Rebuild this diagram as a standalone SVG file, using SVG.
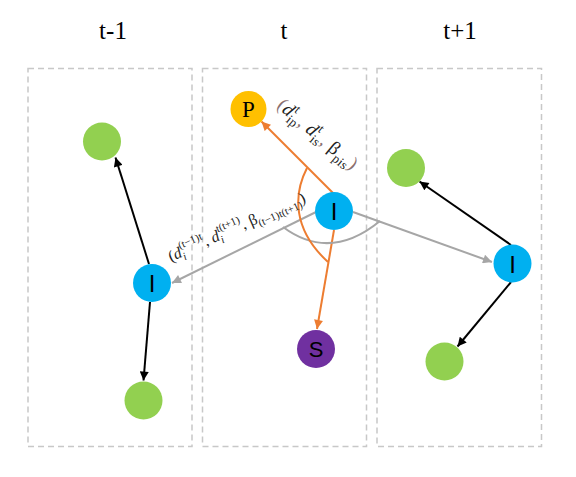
<svg xmlns="http://www.w3.org/2000/svg" width="576" height="477" viewBox="0 0 576 477">
<style>
.box{fill:none;stroke:#C8C8C8;stroke-width:1.5;stroke-dasharray:6 4}
.title{font-family:"Liberation Serif",serif;font-size:25px;fill:#000;text-anchor:middle}
.blk{stroke:#000;stroke-width:2;fill:none}
.gry{stroke:#A6A6A6;stroke-width:2;fill:none}
.org{stroke:#ED7D31;stroke-width:2;fill:none}
.blue{fill:#00B0F0}
.green{fill:#92D050}
.lbl{font-family:"Liberation Sans",sans-serif;text-anchor:middle;fill:#000}
.math{font-family:"Liberation Serif",serif;fill:#222}
</style>
<defs>
<marker id="ab" viewBox="0 0 10 10" refX="10" refY="5" markerWidth="5" markerHeight="4.5" orient="auto" markerUnits="strokeWidth"><path d="M0,0 L10,5 L0,10 z" fill="#000"/></marker>
<marker id="ag" viewBox="0 0 10 10" refX="10" refY="5" markerWidth="5" markerHeight="4.5" orient="auto" markerUnits="strokeWidth"><path d="M0,0 L10,5 L0,10 z" fill="#A6A6A6"/></marker>
<marker id="ao" viewBox="0 0 10 10" refX="10" refY="5" markerWidth="5" markerHeight="4.5" orient="auto" markerUnits="strokeWidth"><path d="M0,0 L10,5 L0,10 z" fill="#ED7D31"/></marker>
</defs>
<g id="frames">
<rect class="box" x="28" y="68.5" width="164" height="378"/>
<rect class="box" x="202.5" y="68.5" width="164" height="378"/>
<rect class="box" x="377" y="68.5" width="164.5" height="378"/>
<text class="title" x="113" y="39">t-1</text>
<text class="title" x="284" y="39">t</text>
<text class="title" x="460" y="39">t+1</text>
</g>
<g id="connectors">
<line class="blk" x1="149" y1="264" x2="115.5" y2="157.5" marker-end="url(#ab)"/>
<line class="blk" x1="150" y1="302" x2="143.5" y2="380.5" marker-end="url(#ab)"/>
<line class="blk" x1="511" y1="245" x2="419.5" y2="181.5" marker-end="url(#ab)"/>
<line class="blk" x1="511" y1="282" x2="457.5" y2="346.5" marker-end="url(#ab)"/>
<line class="gry" x1="316" y1="212" x2="172" y2="283" marker-end="url(#ag)"/>
<line class="gry" x1="353" y1="212" x2="492" y2="262" marker-end="url(#ag)"/>
<line class="org" x1="333" y1="193" x2="261.5" y2="121.5" marker-end="url(#ao)"/>
<line class="org" x1="334" y1="230" x2="317" y2="329" marker-end="url(#ao)"/>
<path class="gry" d="M283 227 Q330 262 380 221"/>
<path class="org" d="M307 168 C293 195 293 230 328 262"/>
<text class="math" transform="translate(276,107) rotate(40)" font-size="19" letter-spacing="0.3"><tspan fill="#8a7070">(</tspan><tspan font-style="italic">d</tspan><tspan font-size="13" dy="-8">t</tspan><tspan font-size="13" dx="-4" dy="13">ip</tspan><tspan dy="-5" fill="#8a7070">,</tspan><tspan font-style="italic"> d</tspan><tspan font-size="13" dy="-8">t</tspan><tspan font-size="13" dx="-4" dy="13">is</tspan><tspan dy="-5" fill="#8a7070">,</tspan><tspan> β</tspan><tspan font-size="13" dy="5">pis</tspan><tspan dy="-5" fill="#8a7070">)</tspan></text>
<text class="math" transform="translate(171,262) rotate(-24)" font-size="16"><tspan>(</tspan><tspan font-style="italic">d</tspan><tspan font-size="11" dy="4" font-style="italic">i</tspan><tspan font-size="11" dx="-3" dy="-12">(t−1)t</tspan><tspan dy="8">,</tspan><tspan font-style="italic"> d</tspan><tspan font-size="11" dy="4" font-style="italic">i</tspan><tspan font-size="11" dx="-3" dy="-12">t(t+1)</tspan><tspan dy="8">,</tspan><tspan> β</tspan><tspan font-size="11" dy="4">(t−1)t(t+1)</tspan><tspan dy="-4">)</tspan></text>
</g>
<g id="node-left-I"><circle class="blue" cx="152" cy="283" r="19"/><text class="lbl" x="152" y="292" font-size="24">I</text></g>
<g id="node-left-top"><circle class="green" cx="102" cy="141.5" r="19"/></g>
<g id="node-left-bottom"><circle class="green" cx="143.5" cy="400.5" r="19"/></g>
<g id="node-center-I"><circle class="blue" cx="334" cy="211" r="19"/><text class="lbl" x="334" y="220" font-size="24">I</text></g>
<g id="node-P"><circle fill="#FFC000" cx="248.5" cy="109" r="18"/><text x="248.5" y="117" font-family="Liberation Serif,serif" font-size="23" text-anchor="middle">P</text></g>
<g id="node-S"><circle fill="#7030A0" cx="316" cy="349" r="19"/><text class="lbl" x="316" y="357" font-size="22">S</text></g>
<g id="node-right-I"><circle class="blue" cx="512.5" cy="263.5" r="19"/><text class="lbl" x="512.5" y="272.5" font-size="24">I</text></g>
<g id="node-right-top"><circle class="green" cx="406" cy="168" r="19"/></g>
<g id="node-right-bottom"><circle class="green" cx="444.5" cy="361.5" r="19"/></g>
</svg>
